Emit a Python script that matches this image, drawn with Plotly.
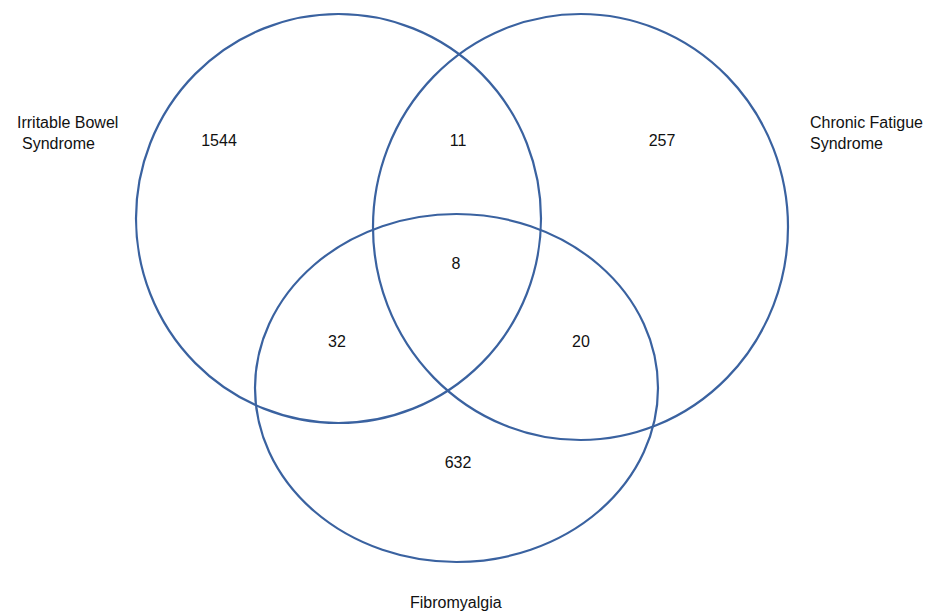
import plotly.graph_objects as go

# Sets and their drawn extents (pixel-like data units, y downward)
set_names = ["Irritable Bowel Syndrome", "Chronic Fatigue Syndrome", "Fibromyalgia"]
set_cx = [338.5, 580.5, 456.5]
set_cy = [218.5, 227.0, 388.0]
set_rx = [202.5, 207.5, 201.5]
set_ry = [204.5, 213.0, 174.0]

# Region counts
region_labels = ["IBS only", "IBS & CFS", "CFS only", "All three", "IBS & FM", "CFS & FM", "FM only"]
region_counts = [1544, 11, 257, 8, 32, 20, 632]
region_x = [219, 458, 662, 456, 337, 581, 458]
region_y = [142, 142, 142, 265, 343, 343, 464]

# Set label lines and anchor positions
label_lines = ["Irritable Bowel", "Syndrome", "Chronic Fatigue", "Syndrome", "Fibromyalgia"]
label_x = [15, 20, 808, 808, 408]
label_y = [122, 143, 122, 143, 602]

line_color = "#3a62a0"
font = dict(family="Liberation Sans, Arial, sans-serif", size=16, color="#111111")

fig = go.Figure()

fig.add_trace(go.Scatter(
    x=region_x, y=region_y, mode="text",
    text=[str(v) for v in region_counts],
    textfont=font,
    hoverinfo="skip", showlegend=False,
))

shapes = []
for cx, cy, rx, ry in zip(set_cx, set_cy, set_rx, set_ry):
    shapes.append(dict(
        type="circle", xref="x", yref="y",
        x0=cx - rx, x1=cx + rx, y0=cy - ry, y1=cy + ry,
        line=dict(color=line_color, width=2.2),
        fillcolor="rgba(0,0,0,0)",
    ))

annotations = []
for txt, lx, ly in zip(label_lines, label_x, label_y):
    annotations.append(dict(
        x=lx, y=ly, xref="x", yref="y", text=txt, showarrow=False,
        xanchor="left", yanchor="middle", font=font,
    ))

fig.update_layout(
    width=941, height=612,
    margin=dict(l=0, r=0, t=0, b=0),
    paper_bgcolor="white", plot_bgcolor="white",
    shapes=shapes, annotations=annotations,
    xaxis=dict(range=[8, 949], visible=False, fixedrange=True),
    yaxis=dict(range=[620, 8], visible=False, fixedrange=True),
)

fig.write_html("out.html")
